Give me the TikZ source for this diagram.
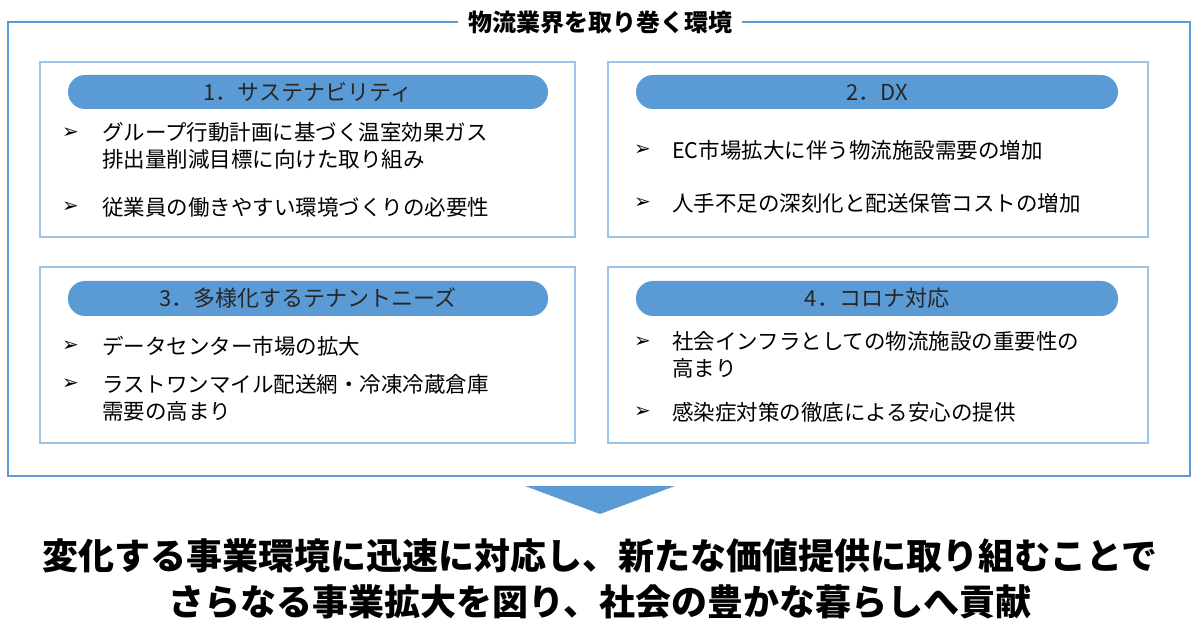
\documentclass[tikz,border=0pt]{standalone}
\usepackage{fontspec}
\setmainfont{Noto Sans CJK JP}
\newfontfamily\dv{DejaVu Sans}
\definecolor{pb}{HTML}{5B9BD5}
\definecolor{fb}{HTML}{9DC3E6}
\begin{document}
\begin{tikzpicture}[x=1pt,y=-1pt,
 panel/.style={draw=fb,line width=1.5pt,fill=white},
 pill/.style={fill=pb,rounded corners=17pt},
 ptxt/.style={font=\fontsize{22}{22}\selectfont,text=black!85},
 item/.style={anchor=west,font=\fontsize{21.5}{27}\selectfont,align=left,inner sep=0},
 bul/.style={anchor=west,font=\dv\fontsize{20}{20}\selectfont,inner sep=0}]
\useasboundingbox (0,0) rectangle (1200,628);
\draw[pb,line width=1.5pt] (8,22) rectangle (1190,476);
\node[fill=white,font=\bfseries\fontsize{24}{24}\selectfont,inner xsep=10pt] (title) at (600,22) {物流業界を取り巻く環境};
\draw[panel] (40,62) rectangle (575,237);
\draw[panel] (608,62) rectangle (1148,237);
\draw[panel] (40,267) rectangle (575,443);
\draw[panel] (608,267) rectangle (1148,443);
\fill[pill] (68,75) rectangle (548,109);
\fill[pill] (636,75) rectangle (1118,109);
\fill[pill] (68,281) rectangle (548,316);
\fill[pill] (636,281) rectangle (1118,316);
\node[ptxt] (p1) at (308,92) {1．サステナビリティ};
\node[ptxt] (p2) at (877,92) {2．DX};
\node[ptxt] (p3) at (308,298) {3．多様化するテナントニーズ};
\node[ptxt] (p4) at (877,298) {4．コロナ対応};
\foreach \y in {133,207,346,384}{\node[bul] at (62,\y) {➢};}
\foreach \y in {150,203,342,412}{\node[bul] at (634,\y) {➢};}
\node[item] (a1) at (102,146) {グループ行動計画に基づく温室効果ガス\\排出量削減目標に向けた取り組み};
\node[item] (a2) at (102,207) {従業員の働きやすい環境づくりの必要性};
\node[item] (b1) at (672,150) {EC市場拡大に伴う物流施設需要の増加};
\node[item] (b2) at (672,203) {人手不足の深刻化と配送保管コストの増加};
\node[item] (c1) at (102,346) {データセンター市場の拡大};
\node[item] (c2) at (102,398) {ラストワンマイル配送網・冷凍冷蔵倉庫\\需要の高まり};
\node[item] (d1) at (672,355) {社会インフラとしての物流施設の重要性の\\高まり};
\node[item] (d2) at (672,412) {感染症対策の徹底による安心の提供};
\fill[pb] (525,486) -- (675,486) -- (600,514) -- cycle;
\node[font=\bfseries\fontsize{36}{36}\selectfont] (m1) at (600,556) {変化する事業環境に迅速に対応し、新たな価値提供に取り組むことで};
\node[font=\bfseries\fontsize{36}{36}\selectfont] (m2) at (600,602) {さらなる事業拡大を図り、社会の豊かな暮らしへ貢献};
\end{tikzpicture}
\end{document}
